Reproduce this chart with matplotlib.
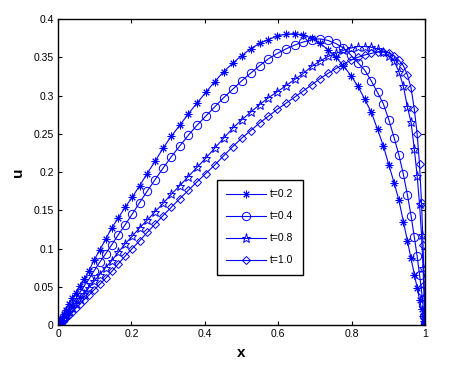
import matplotlib
matplotlib.use("Agg")
import matplotlib.pyplot as plt

plt.rcParams["font.family"] = ["Liberation Sans", "DejaVu Sans"]

# grid points (clustered at both ends)
x = [0.0, 0.0006, 0.0024, 0.0054, 0.0096, 0.0150, 0.0215, 0.0292, 0.0381, 0.0480,
     0.0590, 0.0711, 0.0843, 0.0984, 0.1135, 0.1295, 0.1464, 0.1642, 0.1828, 0.2022,
     0.2222, 0.2430, 0.2643, 0.2862, 0.3087, 0.3316, 0.3549, 0.3785, 0.4025, 0.4266,
     0.4510, 0.4755, 0.5000, 0.5245, 0.5490, 0.5734, 0.5975, 0.6215, 0.6451, 0.6684,
     0.6913, 0.7138, 0.7357, 0.7570, 0.7778, 0.7978, 0.8172, 0.8358, 0.8536, 0.8705,
     0.8865, 0.9016, 0.9157, 0.9289, 0.9410, 0.9520, 0.9619, 0.9708, 0.9785, 0.9850,
     0.9904, 0.9946, 0.9976, 0.9994, 1.0]

u_t02 = [0.0, 0.0006, 0.0022, 0.005, 0.009, 0.014, 0.020, 0.027, 0.035, 0.042,
         0.051, 0.060, 0.071, 0.085, 0.098, 0.112, 0.127, 0.140, 0.154, 0.167,
         0.182, 0.198, 0.214, 0.231, 0.247, 0.261, 0.276, 0.290, 0.304, 0.318,
         0.331, 0.342, 0.352, 0.361, 0.368, 0.373, 0.378, 0.380, 0.381, 0.379,
         0.375, 0.368, 0.360, 0.350, 0.339, 0.326, 0.312, 0.295, 0.278, 0.256,
         0.234, 0.209, 0.186, 0.163, 0.135, 0.110, 0.087, 0.066, 0.049, 0.033,
         0.021, 0.012, 0.005, 0.001, 0.0]

u_t04 = [0.0, 0.0004, 0.0017, 0.004, 0.007, 0.011, 0.0155, 0.021, 0.027, 0.034,
         0.042, 0.051, 0.060, 0.071, 0.082, 0.093, 0.105, 0.118, 0.131, 0.145,
         0.160, 0.175, 0.190, 0.205, 0.220, 0.234, 0.248, 0.261, 0.273, 0.285,
         0.297, 0.308, 0.319, 0.329, 0.339, 0.348, 0.355, 0.361, 0.366, 0.370,
         0.373, 0.374, 0.372, 0.368, 0.362, 0.353, 0.343, 0.333, 0.319, 0.304,
         0.289, 0.268, 0.245, 0.222, 0.197, 0.170, 0.143, 0.115, 0.090, 0.066,
         0.045, 0.026, 0.012, 0.003, 0.0]

u_t08 = [0.0, 0.0003, 0.0014, 0.0031, 0.0056, 0.0087, 0.0125, 0.017, 0.022, 0.028,
         0.034, 0.041, 0.049, 0.057, 0.066, 0.075, 0.084, 0.095, 0.106, 0.116,
         0.127, 0.137, 0.148, 0.159, 0.171, 0.182, 0.194, 0.206, 0.218, 0.231,
         0.244, 0.257, 0.268, 0.278, 0.288, 0.297, 0.305, 0.313, 0.321, 0.329,
         0.338, 0.345, 0.351, 0.355, 0.359, 0.362, 0.364, 0.364, 0.363, 0.361,
         0.357, 0.352, 0.345, 0.331, 0.312, 0.285, 0.265, 0.230, 0.195, 0.158,
         0.118, 0.075, 0.036, 0.010, 0.0]

u_t10 = [0.0, 0.0003, 0.0011, 0.0025, 0.0044, 0.0069, 0.0099, 0.0134, 0.0175, 0.022,
         0.027, 0.033, 0.039, 0.046, 0.053, 0.061, 0.070, 0.080, 0.090, 0.100,
         0.110, 0.121, 0.132, 0.143, 0.154, 0.165, 0.176, 0.187, 0.198, 0.209,
         0.221, 0.233, 0.244, 0.254, 0.264, 0.273, 0.282, 0.290, 0.298, 0.306,
         0.314, 0.322, 0.329, 0.335, 0.341, 0.346, 0.350, 0.353, 0.355, 0.357,
         0.357, 0.356, 0.352, 0.346, 0.339, 0.327, 0.310, 0.282, 0.250, 0.210,
         0.160, 0.105, 0.052, 0.014, 0.0]

labels = ["t=0.2", "t=0.4", "t=0.8", "t=1.0"]
xticks = [0, 0.2, 0.4, 0.6, 0.8, 1]
xtick_labels = ["0", "0.2", "0.4", "0.6", "0.8", "1"]
yticks = [0, 0.05, 0.1, 0.15, 0.2, 0.25, 0.3, 0.35, 0.4]
ytick_labels = ["0", "0.05", "0.1", "0.15", "0.2", "0.25", "0.3", "0.35", "0.4"]

fig = plt.figure(figsize=(4.59, 3.72), dpi=100)
ax = fig.add_axes([0.1264, 0.1263, 0.7996, 0.8226])

blue = "#0000ff"
common = dict(color=blue, lw=0.8, mfc="none", mec=blue, mew=0.7)
ax.plot(x, u_t02, marker=(8, 2, 0), ms=5.5, label=labels[0], **common)
ax.plot(x, u_t04, marker="o", ms=6, label=labels[1], **common)
ax.plot(x, u_t08, marker="*", ms=6.5, label=labels[2], **common)
ax.plot(x, u_t10, marker="D", ms=4.5, label=labels[3], **common)

ax.set_xlim(0, 1)
ax.set_ylim(0, 0.4)
ax.set_xticks(xticks)
ax.set_xticklabels(xtick_labels)
ax.set_yticks(yticks)
ax.set_yticklabels(ytick_labels)
ax.tick_params(direction="in", length=3, width=0.8, labelsize=7.5,
               top=True, right=True, pad=3)
for sp in ax.spines.values():
    sp.set_linewidth(1.0)

ax.set_xlabel("x", fontsize=11, fontweight="bold")
ax.set_ylabel("u", fontsize=11, fontweight="bold")
ax.xaxis.set_label_coords(0.5, -0.068)
ax.yaxis.set_label_coords(-0.09, 0.5)

leg = ax.legend(loc="upper left", bbox_to_anchor=(0.433, 0.474), fontsize=7.5,
                handlelength=3.8, borderpad=0.9, labelspacing=1.15,
                handletextpad=0.4, borderaxespad=0, fancybox=False,
                framealpha=1, edgecolor="black")
leg.get_frame().set_linewidth(1.0)

fig.savefig("out.png", dpi=100)
